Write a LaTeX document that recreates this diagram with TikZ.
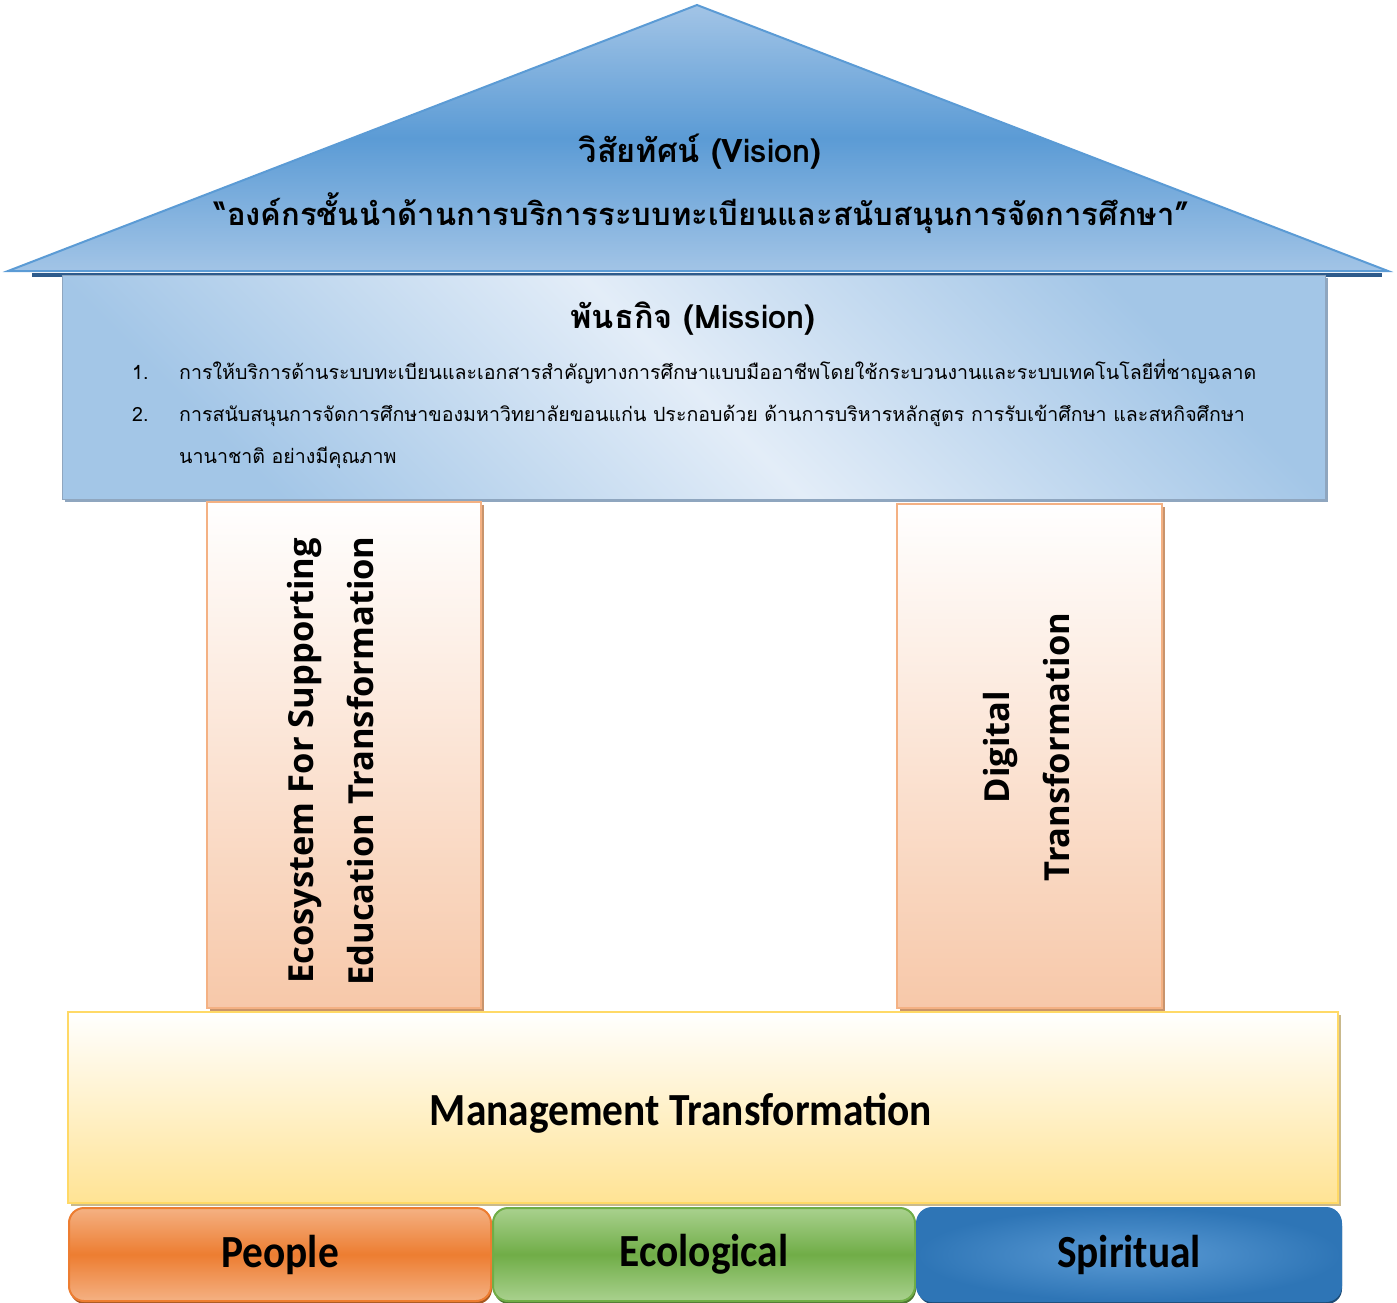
\documentclass[tikz,border=0pt]{standalone}
\usepackage{fontspec}
\usepackage{tikz}
\usetikzlibrary{positioning,shadows}
\newfontfamily\thaifont[Script=Thai]{Loma}
\newfontfamily\pillarfont{Open Sans}
\newfontfamily\basefont[FakeStretch=0.9]{Carlito}

\definecolor{roofblue}{HTML}{5B9BD5}
\definecolor{roofpale}{HTML}{A2C4E6}
\definecolor{roofshade}{HTML}{2E5B8C}
\definecolor{misspale}{HTML}{E3EDF8}
\definecolor{missdark}{HTML}{A3C6E7}
\definecolor{missshade}{HTML}{8FA6BF}
\definecolor{pillarbot}{HTML}{F7C8A9}
\definecolor{pillarline}{HTML}{F4B183}
\definecolor{pillarshade}{HTML}{C9946C}
\definecolor{basebot}{HTML}{FFE394}
\definecolor{baseline}{HTML}{FFD966}
\definecolor{baseshade}{HTML}{C9B98C}
\definecolor{peoplemid}{HTML}{ED7D31}
\definecolor{peoplepale}{HTML}{F4B183}
\definecolor{ecomid}{HTML}{70AD47}
\definecolor{ecopale}{HTML}{A9D18E}
\definecolor{spiritdark}{HTML}{2E75B6}
\definecolor{spiritpale}{HTML}{5B9BD5}

\tikzset{
 roof/.style={draw=roofblue, line width=2pt, top color=roofpale, bottom color=roofpale, middle color=roofblue},
 mission/.style={draw=missshade, line width=1pt, inner sep=0pt, top color=missdark, bottom color=missdark, middle color=misspale, shading angle=-45,
   general shadow={fill=missshade, shadow xshift=3pt, shadow yshift=-3pt}},
 pillar/.style={draw=pillarline, line width=2pt, inner sep=0pt, top color=white, bottom color=pillarbot,
   general shadow={fill=pillarshade, shadow xshift=3pt, shadow yshift=-3pt}},
 base/.style={draw=baseline, line width=2pt, inner sep=0pt, top color=white, bottom color=basebot,
   general shadow={fill=baseshade, shadow xshift=3pt, shadow yshift=-3pt}},
 pillartext/.style={font=\pillarfont\bfseries\fontsize{34.5}{60}\selectfont, align=center, rotate=90},
 basetext/.style={font=\basefont\bfseries\fontsize{46}{50}\selectfont},
 ground/.style={line width=2pt, rounded corners=15pt, inner sep=0pt, outer sep=0pt, minimum width=422pt, minimum height=93pt,
   font=\basefont\bfseries\fontsize{46}{50}\selectfont},
 vtitle/.style={font=\thaifont\bfseries\fontsize{32.5}{36}\selectfont},
 vquote/.style={font=\thaifont\bfseries\fontsize{31}{36}\selectfont},
 item/.style={anchor=base west, inner sep=0pt, font=\thaifont\fontsize{19.6}{26}\selectfont}
}

\begin{document}
\begin{tikzpicture}[x=1pt,y=-1pt]
\useasboundingbox (0,0) rectangle (1397,1303);

% roof
\coordinate (apex) at (697,5);
\coordinate (roofL) at (8,271);
\coordinate (roofR) at (1388,271);
\coordinate (eaveL) at (32,275);
\coordinate (eaveR) at (1382,275);
\draw[roofshade, line width=4pt] (eaveL) -- (eaveR);
\draw[roof] (roofL) -- (apex) -- (roofR) -- cycle;

\path (700,162) node[name=vision, vtitle, anchor=base] {วิสัยทัศน์ (Vision)};
\path (702,225) node[name=vquote, vquote, anchor=base] {“องค์กรชั้นนำด้านการบริการระบบทะเบียนและสนับสนุนการจัดการศึกษา”};

% mission box
\path (693.5,387) node[name=missbox, mission, minimum width=1263pt, minimum height=224pt] {};
\path (693,328) node[name=mtitle, vtitle, anchor=base] {พันธกิจ (Mission)};
\path (132,379) node[name=n1, item] {1.};
\path (179,379) node[name=m1, item] {การให้บริการด้านระบบทะเบียนและเอกสารสำคัญทางการศึกษาแบบมืออาชีพโดยใช้กระบวนงานและระบบเทคโนโลยีที่ชาญฉลาด};
\path (132,421) node[name=n2, item] {2.};
\path (179,421) node[name=m2, item] {การสนับสนุนการจัดการศึกษาของมหาวิทยาลัยขอนแก่น ประกอบด้วย ด้านการบริหารหลักสูตร การรับเข้าศึกษา และสหกิจศึกษา};
\path (179,463) node[name=m3, item] {นานาชาติ อย่างมีคุณภาพ};

% pillars
\path (344,755) node[name=ecobox, pillar, minimum width=274pt, minimum height=506pt] {};
\path (331,761) node[name=ecotext, pillartext] {Ecosystem For Supporting\\Education Transformation};
\path (1029.5,756) node[name=digibox, pillar, minimum width=265pt, minimum height=504pt] {};
\path (1027,747) node[name=digitext, pillartext] {Digital\\Transformation};

% base
\path (703,1107.5) node[name=mgmt, base, minimum width=1270pt, minimum height=191pt] {};
\path (681,1113) node[name=mgmttext, basetext] {Management Transformation};

% ground
\path (280,1254.5) node[name=people, ground, draw=peoplemid, top color=peoplepale, bottom color=peoplepale, middle color=peoplemid,
  general shadow={fill=peoplemid!70!black, shadow xshift=1pt, shadow yshift=-3pt}] {People};
\node[name=eco, ground, right=2pt of people, draw=ecomid, top color=ecopale, bottom color=ecopale, middle color=ecomid,
  general shadow={fill=ecomid!70!black, shadow xshift=1pt, shadow yshift=-3pt}] {Ecological};
\node[name=spirit, ground, right=2pt of eco, minimum width=424pt, draw=spiritdark, inner color=spiritpale, outer color=spiritdark,
  general shadow={fill=spiritdark!65!black, shadow xshift=1pt, shadow yshift=-3pt}] {Spiritual};
\end{tikzpicture}
\end{document}
